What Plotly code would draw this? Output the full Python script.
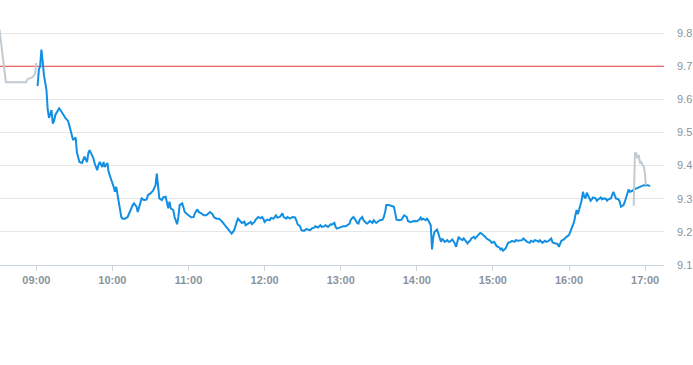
import plotly.graph_objects as go

DAY = "2024-01-01 "

# Pre-market (gray)
pre_times = ["08:31", "08:36", "08:52", "08:53", "08:57", "08:59", "09:00"]
pre_prices = [9.81, 9.652, 9.652, 9.661, 9.667, 9.676, 9.71]

# Regular session (blue)
reg_times = [
    "09:01", "09:02", "09:03", "09:04", "09:05", "09:06", "09:08", "09:09", "09:10", "09:12",
    "09:13", "09:14", "09:15", "09:17", "09:18", "09:19", "09:21", "09:22", "09:23", "09:25",
    "09:26", "09:27", "09:28", "09:29", "09:31", "09:32", "09:34", "09:36", "09:37", "09:38",
    "09:40", "09:41", "09:42", "09:44", "09:45", "09:46", "09:48", "09:49", "09:50", "09:52",
    "09:53", "09:54", "09:56", "09:57", "09:58", "09:59", "10:01", "10:02", "10:03", "10:04",
    "10:05", "10:07", "10:08", "10:10", "10:12", "10:14", "10:16", "10:17", "10:19", "10:20",
    "10:22", "10:23", "10:25", "10:27", "10:28", "10:30", "10:32", "10:33", "10:34", "10:35",
    "10:36", "10:37", "10:39", "10:40", "10:42", "10:43", "10:44", "10:45", "10:46", "10:48",
    "10:49", "10:51", "10:52", "10:53", "10:55", "10:56", "10:57", "10:59", "11:01", "11:02",
    "11:04", "11:05", "11:07", "11:08", "11:10", "11:12", "11:14", "11:16", "11:17", "11:19",
    "11:20", "11:22", "11:24", "11:26", "11:28", "11:30", "11:31", "11:33", "11:34", "11:36",
    "11:37", "11:38", "11:39", "11:41", "11:42", "11:44", "11:45", "11:47", "11:49", "11:50",
    "11:52", "11:53", "11:55", "11:57", "11:58", "11:59", "12:00", "12:02", "12:04", "12:05",
    "12:07", "12:09", "12:10", "12:12", "12:14", "12:15", "12:17", "12:18", "12:20", "12:22",
    "12:24", "12:25", "12:26", "12:28", "12:29", "12:31", "12:33", "12:34", "12:36", "12:37",
    "12:39", "12:40", "12:42", "12:44", "12:45", "12:47", "12:48", "12:50", "12:52", "12:53",
    "12:55", "12:56", "12:57", "12:59", "13:00", "13:02", "13:04", "13:05", "13:07", "13:08",
    "13:10", "13:11", "13:13", "13:14", "13:15", "13:17", "13:18", "13:20", "13:21", "13:23",
    "13:25", "13:26", "13:28", "13:29", "13:31", "13:33", "13:34", "13:35", "13:36", "13:38",
    "13:40", "13:42", "13:43", "13:44", "13:46", "13:48", "13:50", "13:52", "13:53", "13:55",
    "13:57", "13:58", "14:00", "14:02", "14:03", "14:04", "14:05", "14:07", "14:08", "14:09",
    "14:11", "14:12", "14:13", "14:14", "14:16", "14:17", "14:19", "14:20", "14:21", "14:22",
    "14:24", "14:25", "14:26", "14:28", "14:30", "14:31", "14:32", "14:33", "14:34", "14:36",
    "14:37", "14:38", "14:40", "14:41", "14:42", "14:43", "14:45", "14:46", "14:47", "14:49",
    "14:50", "14:51", "14:53", "14:54", "14:55", "14:57", "14:58", "14:59", "15:01", "15:02",
    "15:03", "15:05", "15:06", "15:07", "15:08", "15:10", "15:11", "15:12", "15:14", "15:15",
    "15:17", "15:18", "15:20", "15:22", "15:23", "15:24", "15:26", "15:27", "15:29", "15:30",
    "15:32", "15:33", "15:35", "15:36", "15:37", "15:39", "15:41", "15:42", "15:44", "15:45",
    "15:46", "15:47", "15:49", "15:51", "15:52", "15:53", "15:54", "15:56", "15:57", "15:58",
    "16:00", "16:01", "16:02", "16:04", "16:05", "16:06", "16:07", "16:08", "16:09", "16:10",
    "16:11", "16:12", "16:13", "16:14", "16:15", "16:16", "16:17", "16:18", "16:19", "16:21",
    "16:22", "16:23", "16:25", "16:26", "16:27", "16:29", "16:30", "16:31", "16:33", "16:34",
    "16:35", "16:36", "16:37", "16:39", "16:40", "16:41", "16:42", "16:43", "16:44", "16:45",
    "16:46", "16:47", "16:48", "16:50", "16:51", "16:53", "16:55", "16:57", "16:59", "17:02",
    "17:04",
]
reg_prices = [
    9.640, 9.690, 9.700, 9.750, 9.714, 9.673, 9.628, 9.568, 9.544, 9.568,
    9.527, 9.535, 9.553, 9.566, 9.573, 9.568, 9.558, 9.550, 9.543, 9.535,
    9.522, 9.502, 9.492, 9.477, 9.485, 9.440, 9.411, 9.408, 9.417, 9.427,
    9.411, 9.437, 9.447, 9.432, 9.422, 9.407, 9.386, 9.402, 9.411, 9.396,
    9.411, 9.396, 9.408, 9.381, 9.366, 9.358, 9.336, 9.321, 9.336, 9.316,
    9.291, 9.245, 9.240, 9.240, 9.245, 9.266, 9.281, 9.286, 9.276, 9.260,
    9.286, 9.301, 9.296, 9.298, 9.311, 9.316, 9.324, 9.331, 9.341, 9.376,
    9.336, 9.301, 9.296, 9.304, 9.306, 9.291, 9.271, 9.291, 9.271, 9.266,
    9.245, 9.223, 9.245, 9.281, 9.286, 9.274, 9.260, 9.253, 9.245, 9.244,
    9.245, 9.256, 9.268, 9.260, 9.256, 9.250, 9.250, 9.257, 9.260, 9.253,
    9.245, 9.240, 9.240, 9.233, 9.223, 9.215, 9.207, 9.200, 9.195, 9.205,
    9.220, 9.230, 9.240, 9.230, 9.227, 9.231, 9.220, 9.225, 9.230, 9.223,
    9.230, 9.237, 9.245, 9.241, 9.245, 9.240, 9.230, 9.237, 9.235, 9.242,
    9.240, 9.250, 9.243, 9.245, 9.256, 9.245, 9.240, 9.245, 9.240, 9.245,
    9.244, 9.235, 9.223, 9.217, 9.205, 9.203, 9.209, 9.207, 9.205, 9.210,
    9.213, 9.217, 9.213, 9.220, 9.215, 9.217, 9.220, 9.215, 9.223, 9.222,
    9.227, 9.215, 9.210, 9.213, 9.215, 9.217, 9.217, 9.220, 9.225, 9.237,
    9.245, 9.240, 9.227, 9.225, 9.237, 9.245, 9.235, 9.227, 9.225, 9.233,
    9.227, 9.235, 9.227, 9.230, 9.235, 9.237, 9.245, 9.260, 9.281, 9.281,
    9.278, 9.276, 9.256, 9.237, 9.235, 9.237, 9.250, 9.245, 9.233, 9.229,
    9.232, 9.233, 9.232, 9.237, 9.243, 9.237, 9.240, 9.235, 9.240, 9.235,
    9.220, 9.147, 9.185, 9.200, 9.207, 9.195, 9.170, 9.180, 9.175, 9.170,
    9.175, 9.170, 9.170, 9.177, 9.165, 9.155, 9.170, 9.185, 9.180, 9.175,
    9.180, 9.175, 9.165, 9.170, 9.173, 9.180, 9.185, 9.180, 9.185, 9.193,
    9.197, 9.195, 9.190, 9.185, 9.180, 9.175, 9.173, 9.167, 9.170, 9.163,
    9.157, 9.153, 9.147, 9.150, 9.143, 9.150, 9.160, 9.167, 9.170, 9.173,
    9.170, 9.175, 9.173, 9.173, 9.175, 9.180, 9.173, 9.170, 9.167, 9.173,
    9.170, 9.175, 9.173, 9.170, 9.175, 9.167, 9.173, 9.170, 9.173, 9.176,
    9.180, 9.168, 9.165, 9.163, 9.155, 9.165, 9.173, 9.177, 9.183, 9.185,
    9.190, 9.200, 9.215, 9.230, 9.250, 9.266, 9.253, 9.271, 9.281, 9.296,
    9.321, 9.306, 9.301, 9.318, 9.308, 9.301, 9.294, 9.298, 9.304, 9.301,
    9.294, 9.298, 9.304, 9.298, 9.301, 9.300, 9.294, 9.298, 9.301, 9.311,
    9.321, 9.311, 9.301, 9.298, 9.291, 9.276, 9.278, 9.281, 9.291, 9.306,
    9.316, 9.328, 9.321, 9.324, 9.328, 9.331, 9.336, 9.338, 9.341, 9.341,
    9.338,
]

# After-hours (gray)
post_times = ["16:51", "16:52", "16:53", "16:54", "16:55", "16:56", "16:57", "16:58", "16:59", "17:00", "17:00:30"]
post_prices = [9.279, 9.437, 9.437, 9.422, 9.432, 9.407, 9.411, 9.401, 9.398, 9.371, 9.341]

prev_close = 9.70

x_ticks = ["09:00", "10:00", "11:00", "12:00", "13:00", "14:00", "15:00", "16:00", "17:00"]
y_ticks = [9.1, 9.2, 9.3, 9.4, 9.5, 9.6, 9.7, 9.8]
x_range = ["08:31:22", "17:14:54"]
y_range = [9.1, 9.9]

def ts(lst):
    return [DAY + t for t in lst]

BLUE = "#128fe2"
GRAY = "#c2cad2"
RED = "#e8413f"
LABEL = "#8a939d"

fig = go.Figure()
fig.add_trace(go.Scatter(x=ts(x_range), y=[prev_close, prev_close], mode="lines",
                         line=dict(color=RED, width=1), hoverinfo="skip", showlegend=False,
                         cliponaxis=True))
fig.add_trace(go.Scatter(x=ts(pre_times), y=pre_prices, mode="lines",
                         line=dict(color=GRAY, width=2), hoverinfo="skip", showlegend=False))
fig.add_trace(go.Scatter(x=ts(reg_times), y=reg_prices, mode="lines",
                         line=dict(color=BLUE, width=2), showlegend=False))
fig.add_trace(go.Scatter(x=ts(post_times), y=post_prices, mode="lines",
                         line=dict(color=GRAY, width=2), hoverinfo="skip", showlegend=False))

fig.update_layout(
    template="none",
    width=693, height=365,
    margin=dict(l=0, r=29, t=0, b=100),
    paper_bgcolor="white", plot_bgcolor="white",
    font=dict(family="Liberation Sans, Arial, sans-serif", size=11, color=LABEL),
    showlegend=False,
)
fig.update_xaxes(
    type="date",
    range=ts(x_range),
    tickvals=ts(x_ticks), ticktext=x_ticks,
    showgrid=False, zeroline=False,
    showline=True, linecolor="#ccd6e0", linewidth=1,
    ticks="outside", ticklen=5, tickcolor="#ccd6e0",
    tickfont=dict(size=11, color=LABEL, weight="bold"),
    automargin=False,
)
fig.update_yaxes(
    side="right",
    range=y_range,
    tickvals=y_ticks, ticktext=[f"{v:.1f}" for v in y_ticks],
    showgrid=True, gridcolor="#e6e6e6", gridwidth=1,
    zeroline=False, showline=False, ticks="", ticklen=0,
    ticklabelstandoff=12,
    tickfont=dict(size=11, color=LABEL),
    automargin=False,
)

fig.write_html("out.html", config={"displayModeBar": False},
               post_script="document.body.style.margin='0';document.body.style.overflow='hidden';")
